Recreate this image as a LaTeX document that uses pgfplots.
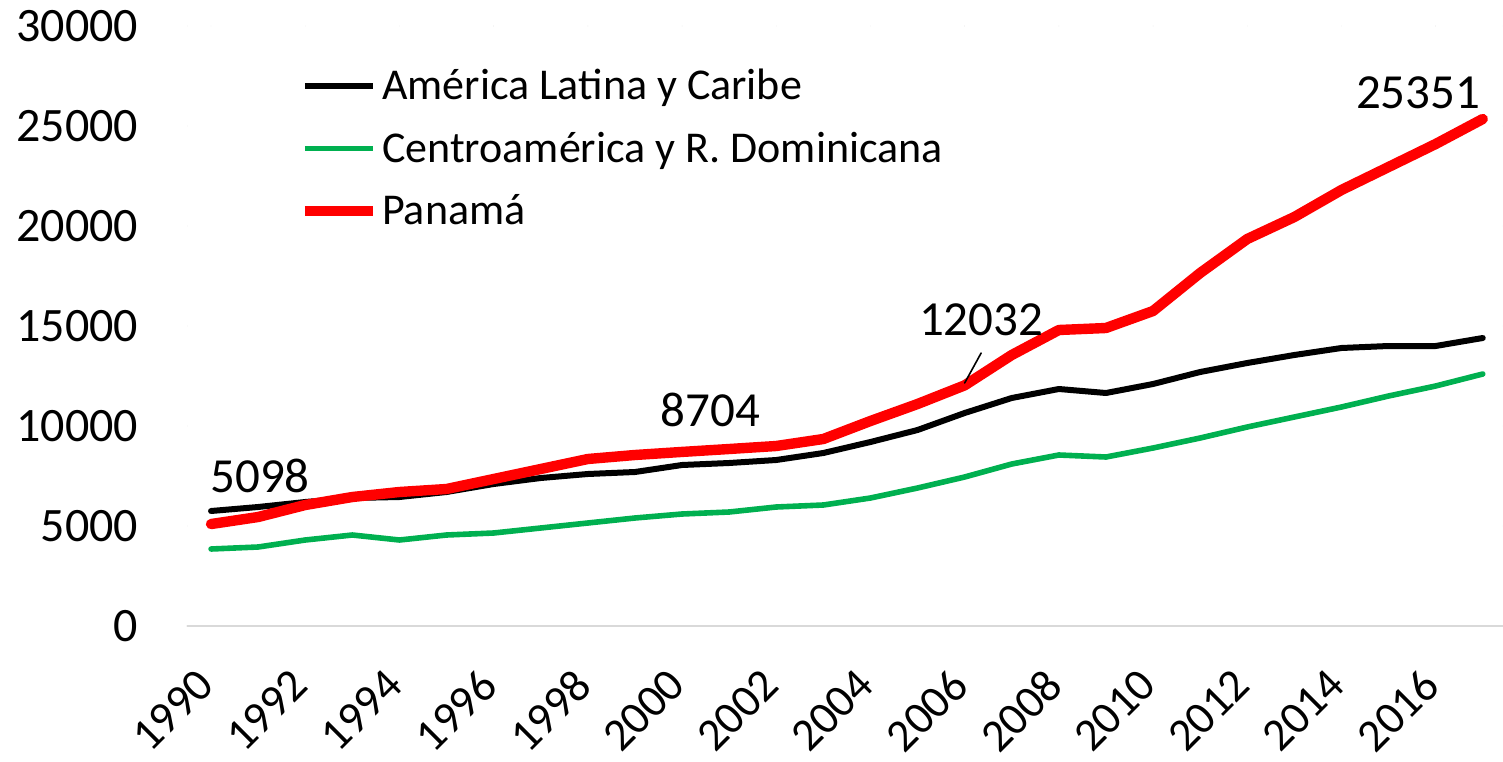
\documentclass[border=0pt]{standalone}
\usepackage{pgfplots}
\pgfplotsset{compat=1.18}
\usepackage{fontspec}
\setmainfont{Carlito}
\definecolor{cagreen}{RGB}{0,176,80}
\definecolor{axisgray}{RGB}{217,217,217}

% year, America Latina y Caribe, Centroamerica y R. Dominicana, Panama
\pgfplotstableread{
year alc   card  pan
1990 5750  3850  5098
1991 5950  3950  5450
1992 6200  4300  6050
1993 6400  4550  6450
1994 6450  4300  6700
1995 6700  4550  6850
1996 7100  4650  7350
1997 7400  4900  7850
1998 7600  5150  8350
1999 7700  5400  8550
2000 8050  5600  8704
2001 8150  5700  8850
2002 8300  5950  9000
2003 8650  6050  9350
2004 9200  6400  10250
2005 9800  6900  11100
2006 10650 7450  12032
2007 11400 8100  13550
2008 11850 8550  14800
2009 11650 8450  14900
2010 12100 8900  15750
2011 12700 9400  17650
2012 13150 9950  19350
2013 13550 10450 20450
2014 13900 10950 21800
2015 14000 11500 22950
2016 14000 12000 24100
2017 14400 12600 25351
}\datatable

\begin{document}
\begin{tikzpicture}
\begin{axis}[
    name=ax,
    scale only axis,
    width=657.75pt,
    height=300pt,
    xmin=1989.5, xmax=2017.43,
    ymin=0, ymax=30000,
    xtick={1990,1992,...,2016},
    ytick={0,5000,...,30000},
    scaled y ticks=false,
    axis line style={draw=none},
    major tick length=0pt,
    /pgf/number format/assume math mode=true,
    /pgf/number format/1000 sep={},
    yticklabel style={font=\fontsize{24}{28}\selectfont, anchor=east, inner sep=0pt, xshift=-24.5pt},
    xticklabel style={font=\fontsize{23}{28}\selectfont, xshift=-8pt, yshift=-20pt, rotate=45, anchor=north east, inner sep=0pt},
    clip=false,
    legend cell align=left,
    legend style={draw=none, fill=none, at={(rel axis cs:0.085,0.935)}, anchor=north west,
        font=\fontsize{22}{26}\selectfont, row sep=10.5pt, inner sep=0pt},
    legend image code/.code={\draw[#1] (0pt,0pt) -- (34pt,0pt);},
    line cap=round, line join=round,
]
\draw[axisgray, line width=1.2pt] (rel axis cs:0,0) -- (rel axis cs:1,0);
\addplot[black, line width=3pt] table[x=year, y=alc] {\datatable};
\addlegendentry{América Latina y Caribe}
\addplot[cagreen, line width=2.8pt] table[x=year, y=card] {\datatable};
\addlegendentry{Centroamérica y R. Dominicana}
\addplot[red, line width=5.2pt] table[x=year, y=pan] {\datatable};
\addlegendentry{Panamá}
\node[font=\fontsize{24.5}{28}\selectfont] at (axis cs:1991.04,7500) {5098};
\node[font=\fontsize{24.5}{28}\selectfont] at (axis cs:2000.6,10800) {8704};
\node[font=\fontsize{24.5}{28}\selectfont] at (axis cs:2006.35,15300) {12032};
\draw[black, line width=0.8pt] (axis cs:2006.35,13650) -- (axis cs:2006.0,12150);
\node[font=\fontsize{24.5}{28}\selectfont] at (axis cs:2015.63,26650) {25351};
\end{axis}
\pgfresetboundingbox
\path ([xshift=-93.75pt, yshift=-67.5pt]ax.south west) rectangle ([yshift=13pt]ax.north east);
\end{tikzpicture}
\end{document}
